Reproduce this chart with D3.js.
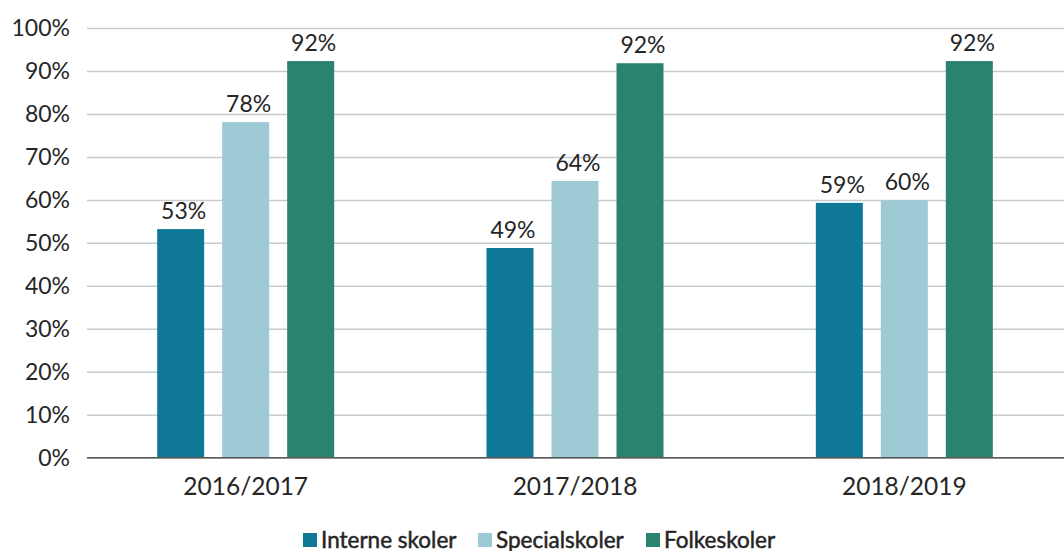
<!DOCTYPE html>
<html>
<head>
<meta charset="utf-8">
<script src="https://cdn.jsdelivr.net/npm/d3@7"></script>
<style>
  body { margin: 0; background: #fff; }
  text { font-family: Lato, "Open Sans", sans-serif; fill: #262626; }
</style>
</head>
<body>
<svg id="chart" width="1064" height="551"></svg>
<script>
// data
const years = ["2016/2017", "2017/2018", "2018/2019"];
const seriesNames = ["Interne skoler", "Specialskoler", "Folkeskoler"];
const interne = [53.2, 48.8, 59.3];
const special = [78.1, 64.4, 59.9];
const folke = [92.3, 91.8, 92.3];
const yTicks = [0, 10, 20, 30, 40, 50, 60, 70, 80, 90, 100];
const colors = ["#0f7896", "#9ecad6", "#2b826e"];

let svg = d3.select("#chart");
let width = 1064;
let plotLeft = 87;
let plotTop = 28;
let plotBottom = 457.7;

let rows = [];
years.forEach(function (y, i) {
    rows.push({ year: y, values: [interne[i], special[i], folke[i]] });
});

let xScale = d3.scaleBand()
    .domain(years)
    .range([81, 1069]);

let x1 = d3.scaleBand()
    .domain(seriesNames)
    .range([-88.5, 88.5])
    .paddingInner(18 / 65);

let yScale = d3.scaleLinear()
    .domain([0, 100])
    .range([plotBottom, plotTop]);

// gridlines + y labels
let yAxis = d3.axisLeft(yScale)
    .tickValues(yTicks)
    .tickSize(-(width - plotLeft))
    .tickPadding(17)
    .tickFormat(function (d) { return d + "%"; });

let yG = svg.append("g")
    .attr("transform", "translate(" + plotLeft + ",0)")
    .call(yAxis);
yG.select(".domain").remove();
yG.selectAll("line").attr("stroke", "#c6cbce").attr("stroke-width", 1.5);
yG.selectAll("text")
    .attr("font-size", "23px")
    .style("font-family", "Lato, sans-serif")
    .attr("fill", "#262626");

// bars
let groups = svg.append("g").selectAll("g")
    .data(rows)
    .enter().append("g")
    .attr("transform", function (d) {
        return "translate(" + (xScale(d.year) + xScale.bandwidth() / 2) + ",0)";
    });

groups.selectAll("rect")
    .data(function (d) {
        return d.values.map(function (v, i) { return { name: seriesNames[i], value: v, i: i }; });
    })
    .enter().append("rect")
    .attr("x", function (d) { return x1(d.name); })
    .attr("y", function (d) { return yScale(d.value); })
    .attr("width", x1.bandwidth())
    .attr("height", function (d) { return plotBottom - yScale(d.value); })
    .attr("fill", function (d) { return colors[d.i]; });

groups.selectAll("text.val")
    .data(function (d) {
        return d.values.map(function (v, i) { return { name: seriesNames[i], value: v }; });
    })
    .enter().append("text")
    .attr("class", "val")
    .attr("x", function (d) { return x1(d.name) + x1.bandwidth() / 2; })
    .attr("dx", 3)
    .attr("y", function (d) { return yScale(d.value) - 10; })
    .attr("text-anchor", "middle")
    .attr("font-size", "23px")
    .text(function (d) { return Math.round(d.value) + "%"; });

// x axis
let xAxis = d3.axisBottom(xScale).tickSize(0).tickPadding(20);
let xG = svg.append("g")
    .attr("transform", "translate(0," + plotBottom + ")")
    .call(xAxis);
xG.select(".domain").remove();
xG.append("line")
    .attr("x1", plotLeft).attr("x2", width)
    .attr("stroke", "#595959").attr("stroke-width", 1.5);
xG.selectAll("text")
    .attr("font-size", "24.5px")
    .style("font-family", "Lato, sans-serif")
    .attr("fill", "#262626");

// legend (semibold look: regular weight with a thin outline)
let legendX = [303, 478, 646];
let legend = svg.append("g").selectAll("g")
    .data(seriesNames)
    .enter().append("g")
    .attr("transform", function (d, i) { return "translate(" + legendX[i] + ",533)"; });
legend.append("rect")
    .attr("width", 14).attr("height", 14)
    .attr("fill", function (d, i) { return colors[i]; });
legend.append("text")
    .attr("x", 18).attr("y", 15)
    .attr("font-size", "22.5px")
    .attr("stroke", "#262626")
    .attr("stroke-width", 0.5)
    .text(function (d) { return d; });
</script>
</body>
</html>
